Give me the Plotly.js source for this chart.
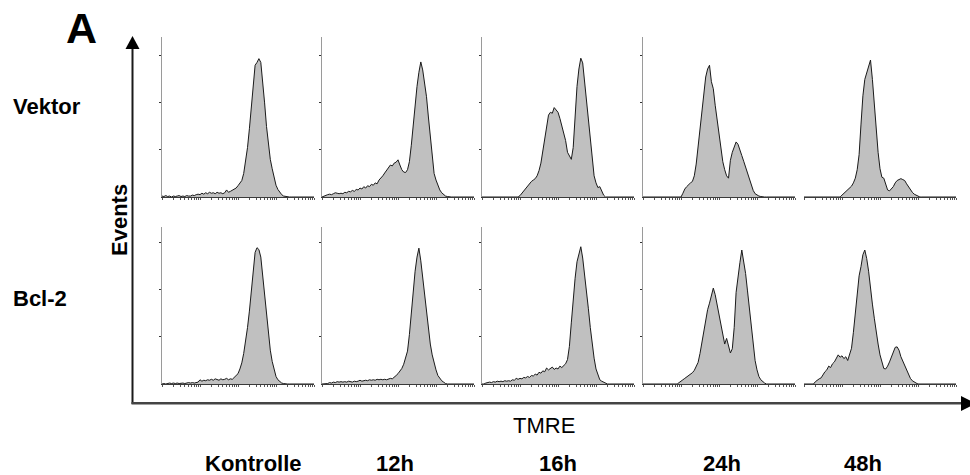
<!DOCTYPE html>
<html>
<head>
<meta charset="utf-8">
<script src="https://cdn.plot.ly/plotly-3.0.1.min.js"></script>
<style>html,body{margin:0;padding:0;background:#fff;}#chart{width:970px;height:475px;}</style>
</head>
<body>
<div id="chart"></div>
<script>
// ---- data ----
const rowLabels = ['Vektor', 'Bcl-2'];
const colLabels = ['Kontrolle', '12h', '16h', '24h', '48h'];
const xAxisLabel = 'TMRE';
const yAxisLabel = 'Events';
const panelLabel = 'A';

// TMRE bins, log decades 0..4 (81 bins)
const binDecades = Array.from({length: 81}, (_, i) => +(i * 0.05).toFixed(2));

// Vektor row
const vektorKontrolle = [0.02,0.01,0.03,0.01,0.02,0.00,0.02,0.01,0.02,0.03,
 0.01,0.02,0.01,0.03,0.02,0.02,0.04,0.03,0.05,0.06,
 0.05,0.08,0.06,0.09,0.07,0.10,0.08,0.09,0.07,0.10,
 0.08,0.09,0.07,0.09,0.15,0.10,0.12,0.14,0.16,0.19,
 0.24,0.29,0.35,0.50,0.75,1.05,1.45,1.90,2.45,2.80,
 2.86,2.94,2.86,2.50,2.00,1.50,1.10,0.80,0.60,0.40,
 0.25,0.16,0.09,0.05,0.02,0.01,0,0,0,0,
 0,0,0,0,0,0,0,0,0,0,0];
const vektor12h = [0.00,0.02,0.03,0.05,0.06,0.05,0.07,0.09,0.08,0.07,
 0.08,0.07,0.10,0.09,0.12,0.11,0.14,0.12,0.16,0.15,
 0.19,0.17,0.22,0.19,0.24,0.22,0.27,0.25,0.30,0.28,
 0.36,0.40,0.45,0.51,0.57,0.62,0.68,0.66,0.72,0.74,
 0.79,0.68,0.58,0.53,0.52,0.58,0.75,1.10,1.55,1.99,
 2.35,2.65,2.87,2.70,2.45,2.13,1.70,1.30,0.80,0.50,
 0.36,0.25,0.15,0.09,0.05,0.02,0.01,0,0,0,
 0,0,0,0,0,0,0,0,0,0,0];
const vektor16h = [0,0,0,0,0,0,0,0,0,0,
 0,0,0,0,0,0,0,0,0,0,
 0.03,0.08,0.13,0.18,0.24,0.28,0.33,0.36,0.39,0.45,
 0.56,0.72,0.98,1.30,1.58,1.74,1.80,1.78,1.90,1.84,
 1.80,1.67,1.52,1.38,1.20,0.95,0.86,0.80,1.05,1.70,
 2.35,2.72,2.95,2.85,2.45,2.06,1.65,1.22,0.80,0.45,
 0.30,0.20,0.22,0.11,0.04,0,0,0,0,0,
 0,0,0,0,0,0,0,0,0,0,0];
const vektor24h = [0,0,0,0,0,0,0,0,0,0,
 0,0,0,0,0,0,0,0,0,0,
 0.00,0.08,0.17,0.22,0.27,0.30,0.33,0.45,0.70,1.05,
 1.45,1.80,2.10,2.55,2.72,2.80,2.45,2.30,1.95,1.65,
 1.35,1.02,0.75,0.58,0.45,0.40,0.78,0.95,1.05,1.17,
 1.12,1.02,0.88,0.76,0.63,0.52,0.40,0.25,0.14,0.07,
 0.04,0.02,0.01,0,0,0,0,0,0,0,
 0,0,0,0,0,0,0,0,0,0,0];
const vektor48h = [0,0,0,0,0,0,0,0,0,0,
 0,0,0,0,0,0,0,0,0,0,
 0.04,0.08,0.12,0.17,0.20,0.23,0.30,0.40,0.58,0.90,
 1.55,2.15,2.50,2.65,2.75,2.91,2.50,1.95,1.45,0.95,
 0.60,0.42,0.40,0.28,0.15,0.13,0.17,0.22,0.30,0.35,
 0.37,0.39,0.37,0.35,0.28,0.21,0.14,0.10,0.06,0.04,
 0.02,0,0,0,0,0,0,0,0,0,
 0,0,0,0,0,0,0,0,0,0,0];

// Bcl-2 row
const bcl2Kontrolle = [0.00,0.01,0.00,0.01,0.02,0.01,0.02,0.01,0.02,0.01,
 0.02,0.02,0.01,0.02,0.03,0.02,0.03,0.02,0.03,0.04,
 0.09,0.06,0.08,0.07,0.09,0.08,0.10,0.08,0.11,0.09,
 0.08,0.11,0.09,0.10,0.12,0.09,0.11,0.10,0.14,0.17,
 0.22,0.32,0.45,0.65,0.90,1.20,1.55,1.95,2.45,2.80,
 2.90,2.86,2.70,2.32,1.90,1.42,1.05,0.72,0.48,0.30,
 0.16,0.09,0.05,0.02,0.01,0,0,0,0,0,
 0,0,0,0,0,0,0,0,0,0,0];
const bcl212h = [0.00,0.00,0.00,0.01,0.03,0.02,0.04,0.03,0.05,0.04,
 0.05,0.04,0.05,0.04,0.06,0.05,0.04,0.06,0.05,0.06,
 0.08,0.06,0.07,0.08,0.07,0.09,0.08,0.09,0.08,0.10,
 0.09,0.10,0.09,0.10,0.09,0.11,0.12,0.11,0.14,0.18,
 0.22,0.28,0.33,0.42,0.55,0.70,1.05,1.50,2.04,2.40,
 2.70,2.89,2.62,2.25,1.90,1.47,1.15,0.85,0.62,0.42,
 0.30,0.18,0.11,0.07,0.04,0.01,0,0,0,0,
 0,0,0,0,0,0,0,0,0,0,0];
const bcl216h = [0.00,0.00,0.02,0.03,0.04,0.03,0.05,0.04,0.06,0.05,
 0.06,0.05,0.07,0.06,0.07,0.06,0.09,0.08,0.12,0.10,
 0.12,0.11,0.14,0.13,0.16,0.14,0.18,0.17,0.21,0.19,
 0.25,0.23,0.28,0.26,0.34,0.30,0.33,0.36,0.31,0.34,
 0.32,0.38,0.35,0.40,0.43,0.52,0.80,1.30,1.82,2.25,
 2.60,2.80,2.92,2.68,2.35,1.96,1.60,1.20,0.85,0.55,
 0.32,0.18,0.09,0.06,0.04,0.02,0,0,0,0,
 0,0,0,0,0,0,0,0,0,0,0];
const bcl224h = [0,0,0,0,0,0,0,0,0,0,
 0,0,0,0,0,0,0,0,0,0.03,
 0.07,0.09,0.12,0.15,0.18,0.21,0.24,0.29,0.36,0.46,
 0.65,0.88,1.20,1.40,1.58,1.72,1.88,2.04,1.90,1.68,
 1.48,1.28,1.05,0.85,0.97,0.80,0.66,0.75,1.20,1.95,
 2.30,2.58,2.85,2.62,2.35,1.98,1.60,1.15,0.76,0.50,
 0.30,0.16,0.09,0.05,0.02,0,0,0,0,0,
 0,0,0,0,0,0,0,0,0,0,0];
const bcl248h = [0,0,0,0,0,0,0.05,0.09,0.11,0.13,
 0.20,0.26,0.30,0.38,0.35,0.43,0.47,0.55,0.62,0.57,
 0.60,0.54,0.58,0.50,0.62,0.76,1.10,1.50,1.95,2.30,
 2.50,2.75,2.85,2.67,2.40,2.00,1.70,1.40,1.10,0.85,
 0.62,0.45,0.33,0.32,0.38,0.47,0.58,0.70,0.78,0.79,
 0.72,0.58,0.48,0.38,0.28,0.19,0.12,0.07,0.04,0.02,
 0,0,0,0,0,0,0,0,0,0,
 0,0,0,0,0,0,0,0,0,0,0];

const panels = [
  [vektorKontrolle, vektor12h, vektor16h, vektor24h, vektor48h],
  [bcl2Kontrolle, bcl212h, bcl216h, bcl224h, bcl248h]
];

// ---- layout geometry (pixels) ----
const W = 970, H = 475;
const colLeft = [162, 322, 482, 643, 804];
const colWidth = 152;
const rowTop = [37, 227], rowBottom = [197, 384];
const yTop = [3.40, 3.34];
const px = v => v / W;
const py = v => 1 - v / H;

// log minor tick positions for the TMRE axis
const minorTicks = [];
for (let k = 0; k < 4; k++) for (let m = 1; m <= 9; m++) minorTicks.push(k + Math.log10(m));
minorTicks.push(4);

const FONT = 'Liberation Sans, Arial, Helvetica, sans-serif';
const traces = [];
const layout = {
  width: W, height: H,
  margin: {l: 0, r: 0, t: 0, b: 0},
  paper_bgcolor: '#fff', plot_bgcolor: 'rgba(0,0,0,0)',
  showlegend: false,
  font: {family: FONT, color: '#000'},
  shapes: [], annotations: []
};

let n = 0;
for (let r = 0; r < 2; r++) {
  for (let c = 0; c < 5; c++) {
    n++;
    const sfx = n === 1 ? '' : String(n);
    traces.push({
      type: 'scatter', mode: 'lines',
      x: binDecades, y: panels[r][c],
      xaxis: 'x' + sfx, yaxis: 'y' + sfx,
      fill: 'tozeroy', fillcolor: '#c0c0c0',
      line: {color: '#1a1a1a', width: 1, shape: 'linear'},
      hoverinfo: 'skip'
    });
    layout['xaxis' + sfx] = {
      domain: [px(colLeft[c]), px(colLeft[c] + colWidth)],
      anchor: 'y' + sfx, range: [0, 4], fixedrange: true,
      showgrid: false, zeroline: false,
      showline: true, linecolor: '#3a3a3a', linewidth: 1,
      tickmode: 'array', tickvals: minorTicks, ticks: 'outside', ticklen: 2,
      tickcolor: '#555', tickwidth: 1, showticklabels: false
    };
    layout['yaxis' + sfx] = {
      domain: [py(rowBottom[r]), py(rowTop[r])],
      anchor: 'x' + sfx, range: [0, yTop[r]], fixedrange: true,
      showgrid: false, zeroline: false,
      showline: c < 4, linecolor: '#9a9a9a', linewidth: 1,
      tickmode: 'array', tickvals: [1, 2, 3], ticks: c < 4 ? 'outside' : '',
      ticklen: 2, tickcolor: '#333', tickwidth: 1, showticklabels: false
    };
  }
}

// big axis arrows
layout.shapes.push(
  {type: 'line', xref: 'paper', yref: 'paper', x0: px(132.5), x1: px(132.5), y0: py(404), y1: py(47), line: {color: '#1a1a1a', width: 2}},
  {type: 'path', xref: 'paper', yref: 'paper', path: `M ${px(125.5)} ${py(49)} L ${px(139.5)} ${py(49)} L ${px(132.5)} ${py(36)} Z`, fillcolor: '#000', line: {width: 0}},
  {type: 'line', xref: 'paper', yref: 'paper', x0: px(131.5), x1: px(963), y0: py(403.3), y1: py(403.3), line: {color: '#444', width: 2.5}},
  {type: 'path', xref: 'paper', yref: 'paper', path: `M ${px(961)} ${py(396)} L ${px(961)} ${py(411)} L ${px(976)} ${py(403.3)} Z`, fillcolor: '#000', line: {width: 0}}
);

// texts
const ann = (text, x, y, size, bold, extra) => Object.assign({
  text: bold ? '<b>' + text + '</b>' : text,
  xref: 'paper', yref: 'paper', x: px(x), y: py(y),
  xanchor: 'center', yanchor: 'middle', showarrow: false,
  font: {family: FONT, size: size, color: '#000'}
}, extra || {});

layout.annotations.push(ann(panelLabel, 81, 28, 43, true));
layout.annotations.push(ann(rowLabels[0], 11, 106, 22, true, {xanchor: 'left'}));
layout.annotations.push(ann(rowLabels[1], 11, 298, 22, true, {xanchor: 'left'}));
layout.annotations.push(ann(yAxisLabel, 119, 220, 22, true, {textangle: -90}));
layout.annotations.push(ann(xAxisLabel, 544, 425, 22, false));
const colLabelX = [253, 395, 558, 722, 863];
colLabels.forEach((t, i) => layout.annotations.push(ann(t, colLabelX[i], 463, 22, true)));

Plotly.newPlot('chart', traces, layout, {staticPlot: true, displayModeBar: false});
</script>
</body>
</html>
